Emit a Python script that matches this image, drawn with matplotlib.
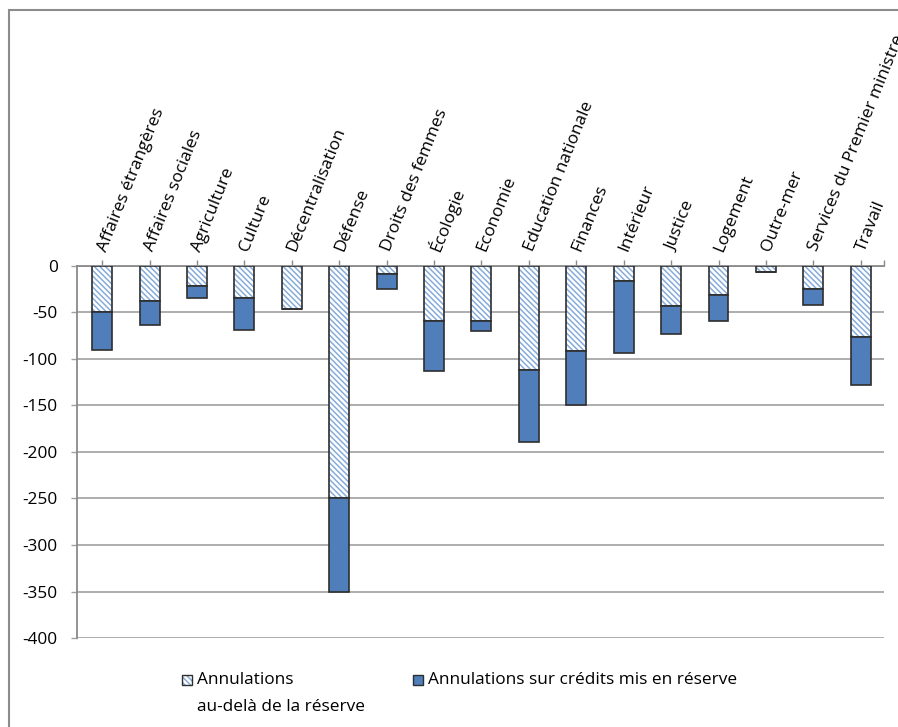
import matplotlib
matplotlib.use("Agg")
import matplotlib.pyplot as plt
from matplotlib.patches import Rectangle
import numpy as np

# Budget cancellations by ministry (millions of euros)
categories = [
    "Affaires étrangères", "Affaires sociales", "Agriculture", "Culture",
    "Décentralisation", "Défense", "Droits des femmes", "Écologie",
    "Economie", "Education nationale", "Finances", "Intérieur", "Justice",
    "Logement", "Outre-mer", "Services du Premier ministre", "Travail",
]
beyond_reserve = [-50, -38, -21, -34, -46, -250, -9, -59, -59, -112, -91,
                  -16, -43, -31, -6, -25, -76]
on_reserve = [-40, -25, -13, -35, 0, -100, -16, -54, -11, -77, -59,
              -78, -30, -28, 0, -17, -52]
yticks = [0, -50, -100, -150, -200, -250, -300, -350, -400]
legend_labels = ["Annulations", "au-delà de la réserve",
                 "Annulations sur crédits mis en réserve"]

plt.rcParams["font.family"] = ["Open Sans", "DejaVu Sans"]
plt.rcParams["hatch.linewidth"] = 1.1
FS = 12.4

W, H = 898, 727
fig = plt.figure(figsize=(W / 100, H / 100), dpi=100)

def fx(px):
    return px / W

def fy(py):
    return 1 - py / H

ax = fig.add_axes([fx(77), fy(638), fx(884) - fx(77), fy(266) - fy(638)])

x = np.arange(len(categories))
width = 0.42
blue = "#4F7EBB"
hatch_col = "#86ACDA"
edge = "#2E2E2E"
HATCH = "\\" * 6

# hatched segment, then outline on top
ax.bar(x, beyond_reserve, width, color="white", edgecolor=hatch_col,
       hatch=HATCH, linewidth=0, zorder=3)
ax.bar(x, beyond_reserve, width, facecolor="none", edgecolor=edge,
       linewidth=1.2, zorder=4)
ax.bar(x, on_reserve, width, bottom=beyond_reserve, color=blue,
       edgecolor=edge, linewidth=1.2, zorder=4)

ax.set_xlim(-0.53, 16.49)
ax.set_ylim(-400, 0)

grid_col = "#A0A0A0"
axis_col = "#8A8A8A"
ax.set_yticks(yticks)
ax.set_yticklabels([str(v) for v in yticks], fontsize=FS)
ax.yaxis.grid(True, color=grid_col, linewidth=1.2, zorder=0)
ax.tick_params(axis="y", length=4, width=1, color=grid_col, pad=10)

for s in ["right", "bottom"]:
    ax.spines[s].set_visible(False)
ax.spines["left"].set_color(axis_col)
ax.spines["left"].set_linewidth(1.3)
ax.spines["top"].set_color(axis_col)
ax.spines["top"].set_linewidth(1.3)

ax.xaxis.tick_top()
ax.set_xticks(x)
ax.set_xticks([16.49], minor=True)
ax.set_xticklabels(categories, fontsize=FS)
ax.tick_params(axis="x", which="both", length=4, width=1, color=axis_col,
               pad=7, direction="out")
for lbl in ax.get_xticklabels():
    lbl.set_rotation(68)
    lbl.set_rotation_mode("anchor")
    lbl.set_ha("left")
    lbl.set_va("center")

# legend
def legend_patch(x0, yc, hatched):
    s = 10
    if hatched:
        fig.patches.append(Rectangle((fx(x0), fy(yc + s / 2)), fx(s), s / H,
                                     transform=fig.transFigure, facecolor="white",
                                     edgecolor=hatch_col, hatch=HATCH, linewidth=0))
        fig.patches.append(Rectangle((fx(x0), fy(yc + s / 2)), fx(s), s / H,
                                     transform=fig.transFigure, facecolor="none",
                                     edgecolor=edge, linewidth=1.0))
    else:
        fig.patches.append(Rectangle((fx(x0), fy(yc + s / 2)), fx(s), s / H,
                                     transform=fig.transFigure, facecolor=blue,
                                     edgecolor=edge, linewidth=1.0))

legend_patch(182, 680, True)
fig.text(fx(197), fy(680), legend_labels[0], fontsize=FS, va="center", ha="left")
fig.text(fx(197), fy(707), legend_labels[1], fontsize=FS, va="center", ha="left")
legend_patch(413, 680, False)
fig.text(fx(428), fy(680), legend_labels[2], fontsize=FS, va="center", ha="left")

# chart frame
fig.patches.append(Rectangle((fx(9), -0.05), 1.2, fy(10) + 0.05,
                             transform=fig.transFigure, fill=False,
                             edgecolor="#8C8C8C", linewidth=1.5))

fig.savefig("out.png", dpi=100)
